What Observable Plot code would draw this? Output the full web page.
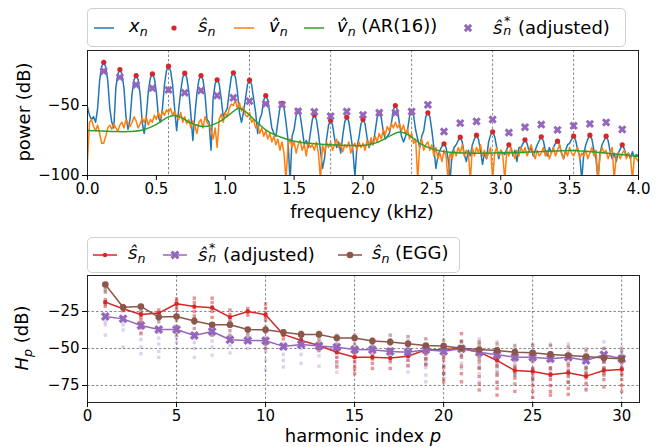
<!DOCTYPE html>
<html><head><meta charset="utf-8">
<script src="https://cdn.jsdelivr.net/npm/d3@7"></script>
<script src="https://cdn.jsdelivr.net/npm/@observablehq/plot@0.6"></script>
<style>
body{margin:0;background:#fff;}
#wrap{position:relative;width:665px;height:447px;font-family:"DejaVu Sans",sans-serif;color:#000;overflow:hidden;background:#fff}
.pl{position:absolute;left:0}
.lg{position:absolute;border:1.3px solid #cfcfcf;border-radius:5px;background:rgba(255,255,255,0.85);box-sizing:border-box}
.t{position:absolute;font-size:18px;line-height:1;white-space:nowrap;transform:translateY(-50%)}
.c{position:absolute;font-size:18px;line-height:1;white-space:nowrap;transform:translate(-50%,-50%)}
.r{position:absolute;font-size:18px;line-height:1;white-space:nowrap;transform:translate(-50%,-50%) rotate(-90deg)}
.m{font-style:italic}
.sb{font-size:70%;vertical-align:-0.3em;font-style:italic}
.ss{position:relative;display:inline-block;width:0.5em;height:1em;vertical-align:top;font-style:italic;line-height:0.7;margin-left:0.05em}
.ss .a{position:absolute;left:0.06em;top:-0.14em;font-size:70%}
.ss .b{position:absolute;left:0;top:0.64em;font-size:70%}
#hand{position:absolute;left:0;top:0}
</style></head><body>
<div id="wrap">
  <div id="topPlot" class="pl" style="top:0"></div>
  <div id="botPlot" class="pl" style="top:220px"></div>
  <div class="lg" style="left:87px;top:8px;width:539px;height:39px"></div>
  <div class="lg" style="left:87px;top:237px;width:373px;height:36px"></div>
  <svg id="hand" width="665" height="447"></svg>
  <div class="t" style="left:129px;top:28px"><span class="m">x</span><span class="sb">n</span></div>
  <div class="t" style="left:198px;top:28px"><span class="m">ŝ</span><span class="sb">n</span></div>
  <div class="t" style="left:269px;top:28px"><span class="m">v̂</span><span class="sb">n</span></div>
  <div class="t" style="left:337px;top:28px"><span class="m">v̂</span><span class="sb">n</span> (AR(16))</div>
  <div class="t" style="left:493px;top:28px"><span class="m">ŝ</span><span class="ss"><span class="a">*</span><span class="b">n</span></span> (adjusted)</div>
  <div class="t" style="left:128px;top:255px"><span class="m">ŝ</span><span class="sb">n</span></div>
  <div class="t" style="left:198px;top:255px"><span class="m">ŝ</span><span class="ss"><span class="a">*</span><span class="b">n</span></span> (adjusted)</div>
  <div class="t" style="left:372px;top:255px"><span class="m">ŝ</span><span class="sb">n</span> (EGG)</div>
  <div class="r" style="left:24px;top:112px">power (dB)</div>
  <div class="r" style="left:24px;top:338px"><span class="m">H</span><span class="sb">p</span> (dB)</div>
  <div class="c" style="left:362px;top:212px">frequency (kHz)</div>
  <div class="c" style="left:363px;top:436px">harmonic index <span class="m">p</span></div>
</div>
<script>
// ---------------- DATA ----------------
// top panel: harmonic frequencies (kHz)
const harmonicFreqs = [0.118,0.235,0.353,0.471,0.588,0.706,0.824,0.941,1.059,1.176,1.294,1.412,1.529,1.647,1.765,1.882,2.000,2.118,2.235,2.353,2.471,2.588,2.706,2.824,2.941,3.059,3.176,3.294,3.412,3.529,3.647,3.765,3.882];
const sHatDb = [-19.1,-24.3,-28.6,-27.4,-21.9,-26.9,-28.6,-31.6,-26.6,-31.9,-42.9,-48.4,-54.0,-56.7,-60.7,-58.3,-60.0,-55.5,-50.0,-54.5,-55.2,-77.4,-72.6,-71.2,-68.8,-78.1,-74.5,-72.4,-75.5,-71.9,-71.2,-71.9,-78.1];
const sAdjDb = [-25.5,-29.8,-35.2,-37.6,-38.8,-40.9,-39.3,-42.9,-44.5,-46.9,-48.8,-49.5,-54.1,-54.5,-57.6,-54.3,-56.7,-55.2,-55.2,-54.3,-49.5,-68.6,-62.6,-61.4,-60.0,-69.3,-65.5,-63.6,-67.4,-64.5,-63.1,-62.1,-67.1];
const gridFreqs = [0.588,1.176,1.765,2.353,2.941,3.529];
const freqTicks = [0,0.5,1,1.5,2,2.5,3,3.5,4];
const powerTicks = [-100,-50];
// spectrum sampled every 4/272 kHz (8 samples per harmonic spacing)
const specStep = 4 / 272;
const xDb = [
-51,-57,-60,-58,-62,-52,-32,-22,
-19.1,-22.5,-32,-52,-62,-66,-37,-27.5,
-24.3,-27.5,-37.5,-58,-67,-60,-41.5,-31.5,
-28.6,-31.5,-42,-62,-70,-58,-40.5,-30.5,
-27.4,-30.5,-41,-58,-62,-52,-35,-25,
-21.9,-25,-35,-52,-68,-53,-40,-30,
-26.9,-30,-40,-56,-75,-57,-41.5,-31.5,
-28.6,-31.5,-42,-60,-62,-82,-45,-34.5,
-31.6,-34.5,-45,-58,-55,-52,-40,-29.5,
-26.6,-29.5,-40,-55,-62,-55,-45,-35,
-31.9,-35,-45,-55,-70,-60,-56,-46,
-42.9,-46,-56,-66,-70,-72,-61.5,-51.5,
-48.4,-51.5,-62,-75,-105,-72,-67,-57,
-54,-57,-67,-78,-75,-80,-70,-60,
-56.7,-60,-70,-82,-95,-88,-74,-64,
-60.7,-64,-74,-80,-76,-84,-71.5,-61.5,
-58.3,-61.5,-71.5,-82,-101,-80,-73,-63,
-60,-63,-73,-80,-76,-78,-68.5,-58.5,
-55.5,-58.5,-68.5,-74,-72,-70,-63,-53,
-50,-53,-63,-72,-76,-72,-67.5,-57.5,
-54.5,-57.5,-67.5,-74,-80,-72,-68,-58,
-55.2,-58,-68,-80,-95,-86,-82,-79,
-77.4,-80,-88,-103,-84,-80,-78,-75,
-72.6,-76,-85,-90,-82,-86,-78,-74,
-71.2,-74,-82,-92,-84,-88,-76,-71,
-68.8,-72,-80,-88,-82,-84,-85,-81,
-78.1,-80,-86,-82,-90,-80,-80,-77,
-74.5,-77,-83,-80,-86,-82,-78,-75,
-72.4,-75,-82,-86,-80,-84,-80,-77,
-75.5,-78,-84,-88,-82,-78,-77,-74,
-71.9,-75,-82,-86,-103,-84,-78,-74,
-71.2,-74,-82,-88,-103,-84,-78,-75,
-71.9,-75,-83,-88,-84,-90,-84,-81,
-78.1,-81,-86,-84,-88,-83,-87,-85,
-86];
const vDb = [
-89,-62,-60,-65,-68,-64,-70,-77,
-77,-72,-66,-64,-67,-63,-66,-68,
-64,-62,-66,-60,-63,-65,-62,-58,
-61,-66,-63,-59,-62,-58,-64,-60,
-62,-57,-60,-55,-59,-54,-57,-53,
-55,-52,-57,-54,-58,-60,-55,-62,
-58,-63,-60,-66,-61,-64,-70,-62,
-60,-66,-58,-62,-64,-68,-74,-66,
-80,-60,-56,-62,-55,-58,-52,-49,
-50,-46,-52,-48,-54,-51,-57,-58,
-55,-62,-60,-66,-64,-70,-66,-72,
-68,-74,-70,-76,-72,-78,-74,-82,
-76,-84,-103,-78,-74,-80,-76,-84,
-78,-75,-82,-78,-86,-76,-80,-78,
-82,-76,-84,-103,-78,-84,-76,-80,
-76,-82,-78,-74,-80,-77,-83,-78,
-80,-76,-84,-79,-77,-82,-76,-80,
-77,-82,-75,-79,-73,-78,-72,-76,
-70,-74,-67,-71,-65,-68,-63,-66,
-62,-66,-63,-68,-64,-70,-67,-74,
-70,-77,-74,-103,-78,-74,-82,-78,
-76,-82,-78,-86,-80,-88,-84,-90,
-82,-86,-103,-84,-88,-82,-86,-80,
-84,-78,-86,-82,-84,-103,-80,-86,
-80,-84,-78,-86,-82,-88,-84,-80,
-103,-84,-80,-86,-82,-86,-103,-82,
-86,-80,-84,-88,-82,-86,-80,-84,
-80,-86,-82,-78,-84,-88,-82,-86,
-84,-80,-86,-82,-88,-84,-80,-86,
-82,-78,-84,-88,-82,-86,-80,-84,
-86,-82,-80,-88,-84,-86,-82,-88,
-84,-80,-86,-82,-103,-86,-80,-84,
-82,-88,-84,-80,-103,-86,-84,-88,
-84,-82,-88,-84,-86,-103,-86,-88,
-90];
// AR(16) envelope
const arFreqs = [0,0.1,0.2,0.3,0.4,0.5,0.58,0.625,0.68,0.75,0.845,0.95,1.03,1.1,1.15,1.22,1.31,1.4,1.5,1.65,1.8,2.0,2.1,2.2,2.27,2.33,2.42,2.5,2.6,2.75,3.0,3.2,3.4,3.53,3.7,3.87,4.0];
const arDb = [-67.9,-68.2,-68.6,-68.6,-67.5,-63.5,-58.5,-57.1,-58.5,-62.5,-65,-62,-56.5,-51.9,-54.5,-61,-68.5,-72.5,-75.5,-77.3,-78.2,-78.5,-76.5,-71.5,-69,-71,-77.4,-81,-83,-84,-83.8,-83.3,-82.5,-82.1,-83.4,-85,-86.4];

// bottom panel
const harmIdx = [1,2,3,4,5,6,7,8,9,10,11,12,13,14,15,16,17,18,19,20,21,22,23,24,25,26,27,28,29,30];
const hS = [-18.7,-23.2,-27.0,-26.1,-19.8,-21.6,-22.5,-28.8,-25.0,-27.2,-40.5,-44.6,-48.0,-52.5,-55.9,-55.9,-56.5,-55.2,-50.9,-50.9,-49.8,-52.5,-58.1,-64.9,-65.5,-67.8,-66.4,-68.7,-64.9,-64.2];
const hAdj = [-28.4,-30.0,-34.5,-37.2,-37.2,-41.2,-38.5,-44.1,-44.6,-44.8,-48.6,-47.3,-48.4,-49.1,-50.7,-50.9,-52.0,-52.5,-50.9,-51.8,-50.2,-52.5,-54.3,-55.9,-55.9,-57.0,-55.9,-58.1,-54.3,-57.0];
const hEgg = [-6.8,-22.1,-21.6,-28.8,-28.4,-31.5,-34.0,-34.0,-37.2,-37.4,-39.0,-40.5,-40.5,-43.0,-43.0,-45.0,-45.7,-46.8,-48.0,-48.4,-49.8,-50.7,-51.3,-52.5,-52.9,-54.0,-54.7,-55.4,-56.5,-57.0];
// per-frame estimates (faint squares)
const hSFrames = [[-17,-18.5,-20,-21.5],[-22,-23,-24.5],[-27,-29,-31,-33,-36,-40],[-24,-26,-28,-30],[-16.5,-18,-20,-22,-24],[-16,-19,-22,-25,-28,-30],[-16,-19,-22,-25,-29],[-24,-27,-30,-33],[-23,-25,-27.5],[-20,-23,-26,-29,-31],[-39,-41,-43.5],[-42,-44,-46,-48],[-45.5,-48,-50,-51.5],[-50,-53,-56,-59,-62.5],[-53.5,-56,-59,-62,-64,-67],[-54.5,-57,-60,-63.5],[-53.5,-56,-59,-63.5],[-52.5,-55,-58,-61.5],[-48,-51,-54,-57,-61],[-50,-54,-58,-63,-67,-72.5],[-40,-45,-50,-56,-62,-67,-72.5],[-45.5,-51,-57,-63,-69,-74,-78],[-50,-56,-62,-68,-73,-77,-81.5],[-57,-62,-66,-70,-74,-79],[-63.5,-67,-71,-75,-79,-83],[-63.5,-67,-71,-75,-79,-81.5],[-61.5,-65,-69,-73,-77,-81],[-63.5,-67,-70,-74,-78],[-59,-63,-67,-71,-76],[-59,-63,-67,-71,-75,-79]];
const hAdjFrames = [[-27,-29.5,-32,-34,-41],[-29,-31.5,-34,-37.5,-49],[-33,-36,-39,-44,-49,-53.5],[-36.5,-39,-43,-47,-52,-56],[-36.5,-39,-43,-46,-50],[-40,-43,-46,-50,-56],[-38,-41,-45,-49,-54.5],[-42,-45,-48,-53],[-43,-46,-50],[-44.5,-48,-52,-58,-64.5],[-47,-50,-54,-58,-62.5],[-47,-50,-54,-60],[-48,-51,-55,-62],[-49,-52,-56,-61,-66],[-50,-53,-56,-59],[-49,-52,-55,-57],[-50,-53,-56,-58],[-50,-54,-58,-62,-66],[-48,-53,-58,-63,-68,-72.5],[-47,-51,-56,-61,-66],[-45.5,-50,-55,-60,-63.5],[-43.5,-49,-55,-61,-67,-72.5],[-45.5,-51,-57,-63,-68,-72.5],[-50,-55,-60,-64,-68],[-47,-52,-58,-64,-69,-72.5],[-47,-53,-59,-65,-70,-75],[-47,-52,-57,-63,-68],[-50,-56,-62,-68,-73,-77],[-45.5,-50,-55,-59,-63.5],[-49,-53,-57,-62.5]];
const hEggFrames = [[-6.5,-8.5,-10.5,-12],[-21,-22.5,-24],[-21,-23,-25,-26.5],[-27.5,-29.5,-32],[-27.5,-31,-35,-38,-41],[-30,-33,-36.5,-41],[-33.5,-36,-38.5,-41],[-32,-35,-38,-41],[-36.5,-39,-41],[-35.5,-39,-43,-47,-50],[-38,-40,-41],[-39,-41,-42.5],[-39,-41,-43.5],[-41,-44,-47,-50],[-41,-44,-47,-50],[-43.5,-46,-48,-50],[-41,-44,-47,-51],[-42,-45,-49,-53.5],[-43.5,-48,-53,-57,-60.5],[-44.5,-50,-56,-62,-67,-70.5],[-45.5,-48.5,-51.5,-54.5],[-47,-51,-55,-59,-63.5],[-47,-51,-56,-61,-66],[-48,-53,-58,-63,-68],[-48,-53,-59,-64,-70],[-48,-53,-58,-63,-68],[-49,-54,-60,-66,-72.5],[-51.5,-55,-59,-63,-66],[-50,-54,-59,-64,-68],[-51.5,-55,-60,-64,-68]];
const pTicks = [0,5,10,15,20,25,30];
const hTicks = [-75,-50,-25];

// ---------------- COLOURS ----------------
const C = {blue:"#1f77b4", orange:"#ff7f0e", green:"#2ca02c", red:"#d62728", purple:"#9467bd", brown:"#8c564b"};

// filled "X" marker
function xPoints(E){const r=E/1.3333,c=0.6667*r;return [[0,c],[r-c/2,r+c/2],[r+c/2,r-c/2],[c,0],[r+c/2,-r+c/2],[r-c/2,-r-c/2],[0,-c],[-r+c/2,-r-c/2],[-r-c/2,-r+c/2],[-c,0],[-r-c/2,r-c/2],[-r+c/2,r+c/2]];}
const XSym = {draw(ctx,size){const E=Math.sqrt(size/Math.PI);const p=xPoints(E);ctx.moveTo(p[0][0],p[0][1]);for(let i=1;i<p.length;i++)ctx.lineTo(p[i][0],p[i][1]);ctx.closePath();}};

const minus = d => String(d).replace("-", "\u2212");
const grid = {stroke:"#7a7a7a", strokeWidth:0.9, strokeDasharray:"2.5,2"};

// ---------------- TABLES ----------------
const spec = xDb.map((v,i)=>({f:i*specStep, x:v, v:vDb[i]}));
const ar = arFreqs.map((f,i)=>({f, v:arDb[i]}));
const harm = harmonicFreqs.map((f,i)=>({f, s:sHatDb[i], a:sAdjDb[i]}));
const H = harmIdx.map((p,i)=>({p, s:hS[i], a:hAdj[i], e:hEgg[i]}));
const frames = (arr) => arr.flatMap((vals,i)=>vals.map(v=>({p:harmIdx[i], v})));

const common = {fontFamily:"DejaVu Sans", fontSize:"15px", color:"#000", background:"transparent", overflow:"visible"};

const topChart = Plot.plot({
  width:665, height:220, marginLeft:87, marginRight:27, marginTop:50, marginBottom:45,
  style: common,
  x:{domain:[0,4]}, y:{domain:[-100,-10.7]},
  marks:[
    Plot.ruleX(gridFreqs, grid),
    Plot.line(spec, {x:"f", y:"x", stroke:C.blue, strokeWidth:1.5, clip:true}),
    Plot.dot(harm, {x:"f", y:"s", fill:C.red, r:2.6, stroke:"none"}),
    Plot.line(spec, {x:"f", y:"v", stroke:C.orange, strokeWidth:1.5, clip:true}),
    Plot.line(ar, {x:"f", y:"v", stroke:C.green, strokeWidth:1.5, curve:"catmull-rom", clip:true}),
    Plot.dot(harm, {x:"f", y:"a", symbol:XSym, r:4.2, fill:C.purple, stroke:"none"}),
    Plot.frame({stroke:"#222", strokeWidth:1}),
    Plot.axisX({ticks:freqTicks, tickFormat:d3.format(".1f"), tickSize:5, tickPadding:3, label:null}),
    Plot.axisY({ticks:powerTicks, tickFormat:minus, tickSize:5, tickPadding:3, label:null})
  ]
});
document.getElementById("topPlot").appendChild(topChart);

const botChart = Plot.plot({
  width:665, height:227, marginLeft:87, marginRight:26, marginTop:55, marginBottom:45,
  style: common,
  x:{domain:[0,31]}, y:{domain:[-86.5,-0.7]},
  marks:[
    Plot.ruleX(pTicks.filter(d=>d>0), grid),
    Plot.ruleY(hTicks, grid),
    Plot.dot(frames(hSFrames), {x:"p", y:"v", symbol:"square", r:1.9, fill:C.red, fillOpacity:0.5, stroke:"none"}),
    Plot.dot(frames(hAdjFrames), {x:"p", y:"v", symbol:"square", r:1.9, fill:C.purple, fillOpacity:0.3, stroke:"none"}),
    Plot.dot(frames(hEggFrames), {x:"p", y:"v", symbol:"square", r:1.9, fill:C.brown, fillOpacity:0.5, stroke:"none"}),
    Plot.line(H, {x:"p", y:"s", stroke:C.red, strokeWidth:1.5}),
    Plot.dot(H, {x:"p", y:"s", r:2.2, fill:C.red, stroke:"none"}),
    Plot.line(H, {x:"p", y:"a", stroke:C.purple, strokeWidth:1.5}),
    Plot.dot(H, {x:"p", y:"a", symbol:XSym, r:4.5, fill:C.purple, stroke:"none"}),
    Plot.line(H, {x:"p", y:"e", stroke:C.brown, strokeWidth:1.5}),
    Plot.dot(H, {x:"p", y:"e", r:3.3, fill:C.brown, stroke:"none"}),
    Plot.frame({stroke:"#222", strokeWidth:1}),
    Plot.axisX({ticks:pTicks, tickFormat:d=>String(d), tickSize:5, tickPadding:3, label:null}),
    Plot.axisY({ticks:hTicks, tickFormat:minus, tickSize:5, tickPadding:3, label:null})
  ]
});
document.getElementById("botPlot").appendChild(botChart);

// ---------------- LEGEND HANDLES ----------------
const hs = d3.select("#hand");
const hline = (x1,x2,y,col) => hs.append("line").attr("x1",x1).attr("x2",x2).attr("y1",y).attr("y2",y).attr("stroke",col).attr("stroke-width",1.5);
const hdot = (cx,cy,r,col) => hs.append("circle").attr("cx",cx).attr("cy",cy).attr("r",r).attr("fill",col);
const hx = (cx,cy,E,col) => hs.append("path").attr("d","M"+xPoints(E).map(([a,b])=>`${cx+a},${cy+b}`).join("L")+"Z").attr("fill",col);
hline(94,114,28,C.blue);
hdot(174,28,2.6,C.red);
hline(234,254,28,C.orange);
hline(304,324,28,C.green);
hx(468,28,4.2,C.purple);
hline(93,117,255,C.red); hdot(105,255,2.2,C.red);
hline(163,187,255,C.purple); hx(175,255,4.5,C.purple);
hline(338,362,255,C.brown); hdot(350,255,3.3,C.brown);
</script>
</body></html>
